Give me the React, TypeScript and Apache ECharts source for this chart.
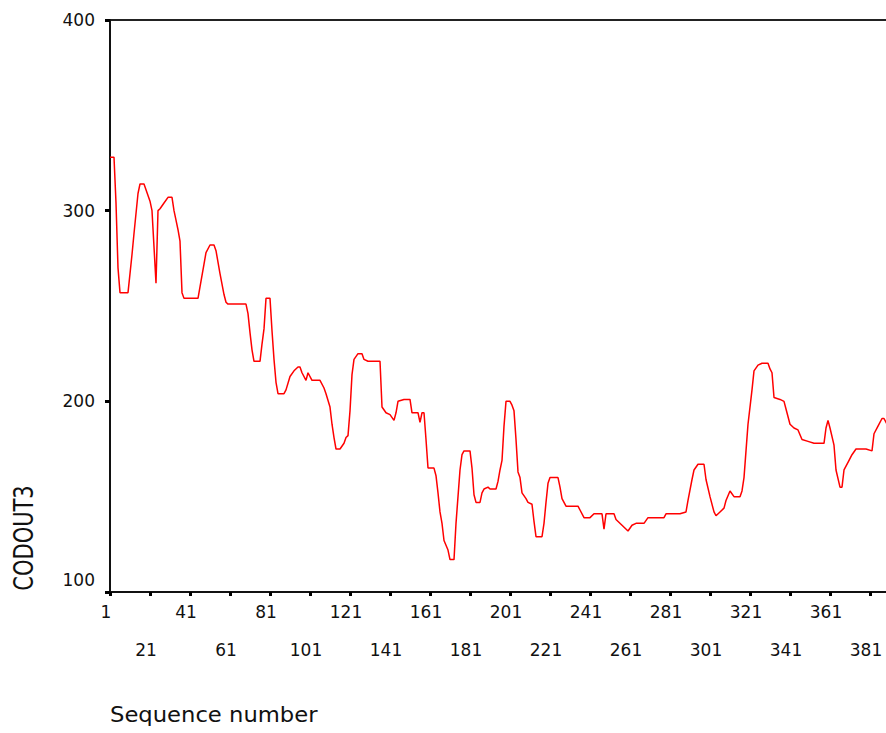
import React, { useEffect, useRef } from "react";
import * as echarts from "echarts";

// Sequence numbers (x) and CODOUT3 values (y)
const seqNumbers = [
  1, 3, 4, 5, 6, 10, 11, 12, 13, 15, 16, 18, 19, 21, 22, 23, 24, 25, 26, 28, 30, 32,
  33, 34, 35, 36, 37, 38, 45, 46, 48, 49, 51, 53, 54, 56, 58, 59, 60, 69,
  70, 71, 72, 73, 76, 77, 78, 79, 81, 82, 83, 84, 85, 88,
  89, 91, 93, 95, 96, 97, 99, 100, 102, 106, 108, 109, 111, 112, 113, 114, 116, 118, 119, 120,
  121, 122, 123, 125, 127, 128, 130, 136,
  137, 139, 141, 143, 144, 145, 148, 151, 152, 155, 156, 157, 158, 159, 160, 163, 164, 165, 166, 167, 168, 170, 171, 173,
  174, 175, 176, 177, 178, 181, 182, 183, 184, 186, 187, 188, 190, 191, 194, 195, 196, 197, 198, 199, 201, 202, 203,
  204, 205, 206, 207, 209, 210, 212, 213, 214, 217, 218, 219, 220, 221, 225, 226, 227, 229, 235, 236, 238, 241,
  243, 247, 248, 249, 253, 254, 257, 260, 262, 264, 268, 270, 278, 279, 286, 289, 290, 292, 293, 295, 298,
  299, 301, 303, 304, 306, 308, 309, 311, 313, 316, 317, 318, 319, 320, 321, 322, 323, 325, 327, 330,
  331, 332, 333, 336, 338, 339, 341, 343, 345, 347, 350, 353, 358, 359, 360, 361, 363, 364, 366, 367,
  368, 370, 372, 374, 379, 382, 383, 385, 387, 388, 390,
];
const codout3 = [
  328, 328, 304, 270, 257, 257, 267, 277, 288, 309, 314, 314, 311, 305, 300, 281, 262, 300, 301, 304, 307, 307,
  300, 295, 290, 284, 257, 254, 254, 260, 272, 278, 282, 282, 279, 267, 256, 252, 251, 251,
  246, 236, 227, 221, 221, 230, 238, 254, 254, 237, 222, 210, 204, 204,
  206, 213, 216, 218, 218, 215, 211, 215, 211, 211, 207, 204, 197, 188, 181, 175, 175, 178, 181, 182,
  195, 214, 222, 225, 225, 222, 221, 221,
  197, 194, 193, 190, 194, 200, 201, 201, 194, 194, 189, 194, 194, 180, 165, 165, 161, 152, 142, 136, 127, 122, 117, 117,
  136, 150, 164, 172, 174, 174, 165, 151, 147, 147, 152, 154, 155, 154, 154, 158, 164, 169, 187, 200, 200, 198, 195,
  180, 163, 160, 152, 149, 147, 146, 137, 129, 129, 136, 147, 157, 160, 160, 155, 149, 145, 145, 143, 139, 139,
  141, 141, 133, 141, 141, 138, 135, 132, 135, 136, 136, 139, 139, 141, 141, 142, 148, 159, 164, 167, 167,
  159, 150, 142, 140, 142, 144, 148, 153, 150, 150, 153, 160, 174, 188, 197, 206, 216, 219, 220, 220,
  217, 215, 202, 201, 200, 196, 188, 186, 185, 180, 179, 178, 178, 186, 190, 186, 177, 164, 155, 155,
  164, 168, 172, 175, 175, 174, 183, 187, 191, 191, 187,
];
const yTicks = [100, 200, 300, 400];
const xTickStep = 20;
const xLastLabel = 381;
const xTitle = "Sequence number";
const yTitle = "CODOUT3";

const FONT = "DejaVu Sans";

export default function App() {
  const ref = useRef<HTMLDivElement>(null);
  useEffect(() => {
    document.body.style.margin = "0";
    document.body.style.overflow = "hidden";
    const chart = echarts.init(ref.current!, undefined, { renderer: "svg" });
    const data = seqNumbers.map((s, i) => [s - 1, codout3[i]]);
    chart.setOption({
      animation: false,
      backgroundColor: "#ffffff",
      grid: {
        left: 110,
        top: 20,
        width: 840,
        bottom: 141,
        show: true,
        borderColor: "#222",
        borderWidth: 2,
        backgroundColor: "transparent",
      },
      xAxis: {
        type: "value",
        min: 0,
        max: 420,
        interval: xTickStep,
        axisLine: { show: true, onZero: false, lineStyle: { color: "#111", width: 2 } },
        axisTick: { show: true, length: 4, lineStyle: { color: "#000", width: 3 } },
        splitLine: { show: false },
        axisLabel: {
          show: true,
          margin: 1,
          fontFamily: FONT,
          fontSize: 17,
          color: "#111",
          lineHeight: 38,
          padding: [0, 8, 0, 0],
          showMaxLabel: false,
          formatter: (v: number) => {
            const s = v + 1;
            if (s > xLastLabel) return "";
            const idx = Math.round(v / xTickStep);
            return idx % 2 === 1 ? "\n" + s : String(s);
          },
        },
      },
      yAxis: {
        type: "value",
        min: yTicks[0],
        max: yTicks[yTicks.length - 1],
        interval: yTicks[1] - yTicks[0],
        axisLine: { show: true, lineStyle: { color: "#111", width: 2 } },
        axisTick: { show: true, length: 5, lineStyle: { color: "#000", width: 3 } },
        splitLine: { show: false },
        axisLabel: {
          margin: 15,
          fontFamily: FONT,
          fontSize: 17,
          color: "#111",
          lineHeight: 24,
          formatter: (v: number) => (v === yTicks[0] ? String(v) + "\n" : String(v)),
        },
      },
      graphic: [
        {
          type: "text",
          x: 110,
          y: 715,
          scaleX: 1.08,
          style: {
            text: xTitle,
            fontFamily: FONT,
            fontSize: 21,
            fill: "#111",
            align: "left",
            verticalAlign: "middle",
          },
        },
        {
          type: "text",
          x: 23,
          y: 538,
          rotation: Math.PI / 2,
          scaleY: 1.3,
          style: {
            text: yTitle,
            fontFamily: FONT,
            fontSize: 21,
            fill: "#111",
            align: "center",
            verticalAlign: "middle",
          },
        },
      ],
      series: [
        {
          type: "line",
          data,
          showSymbol: false,
          symbol: "none",
          lineStyle: { color: "#ff0000", width: 1.5 },
          clip: true,
        },
      ],
    });
    return () => chart.dispose();
  }, []);
  return (
    <div
      ref={ref}
      style={{ position: "fixed", left: 0, top: 0, width: 960, height: 733 }}
    />
  );
}
